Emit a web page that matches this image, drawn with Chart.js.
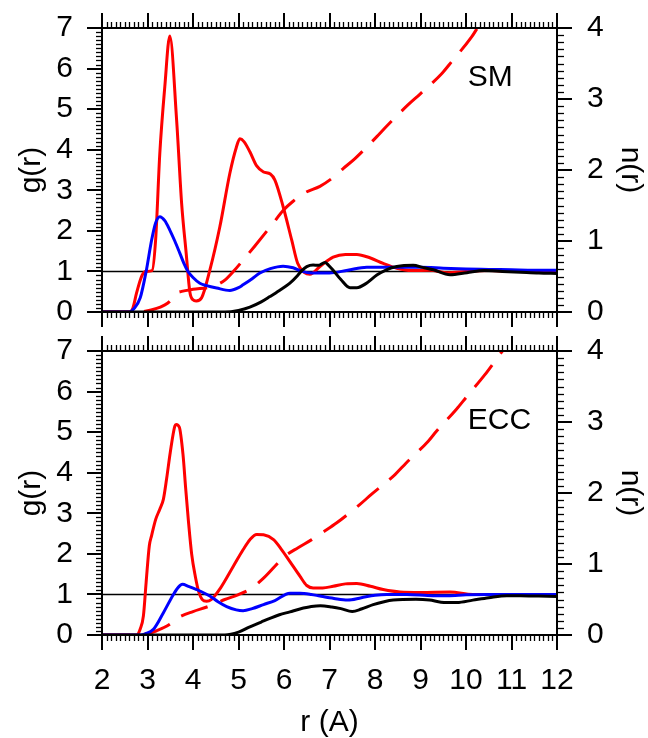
<!DOCTYPE html>
<html>
<head>
<meta charset="utf-8">
<script src="https://cdn.jsdelivr.net/npm/chart.js@4"></script>
<style>
  html, body { margin: 0; padding: 0; background: #fff; }
  #wrap { position: relative; width: 648px; height: 738px; }
  canvas { position: absolute; left: 0; }
  #topPanel { top: 0; }
  #bottomPanel { top: 330px; }
</style>
</head>
<body>
<div id="wrap">
  <canvas id="topPanel" width="648" height="330"></canvas>
  <canvas id="bottomPanel" width="648" height="408"></canvas>
</div>
<script>
// ---------- SM model ----------
const smRedR   = [2, 2.6, 2.68, 2.76, 2.88, 2.96, 3.1, 3.18, 3.27, 3.38, 3.49, 3.64, 3.75, 3.85, 3.93, 4.0, 4.07, 4.19, 4.37, 4.59, 4.81, 4.95, 5.03, 5.12, 5.25, 5.4, 5.55, 5.7, 5.8, 5.98, 6.17, 6.3, 6.45, 6.57, 6.79, 7.08, 7.35, 7.6, 7.9, 8.18, 8.48, 8.8, 9.2, 9.6, 10, 10.5, 11, 11.5, 12];
const smRedG   = [0, 0, 0.1, 0.47, 0.9, 1.0, 1.02, 1.8, 3.9, 5.55, 6.8, 4.73, 2.68, 1.45, 0.5, 0.3, 0.27, 0.35, 1.03, 2.1, 3.42, 4.05, 4.27, 4.2, 3.95, 3.6, 3.45, 3.4, 3.25, 2.6, 1.77, 1.2, 0.97, 0.93, 1.12, 1.35, 1.42, 1.42, 1.33, 1.2, 1.08, 1.02, 1.03, 0.97, 1.0, 1.02, 1.0, 1.0, 0.98];

const smBlueR  = [2, 2.6, 2.7, 2.84, 2.97, 3.09, 3.18, 3.27, 3.38, 3.49, 3.6, 3.71, 3.8, 3.89, 4.0, 4.15, 4.3, 4.52, 4.81, 5.0, 5.1, 5.3, 5.47, 5.7, 5.98, 6.2, 6.4, 6.6, 7.0, 7.4, 7.82, 8.5, 9.0, 9.5, 10, 10.5, 11, 11.5, 12];
const smBlueG  = [0, 0, 0.08, 0.35, 1.0, 1.77, 2.2, 2.35, 2.25, 2.02, 1.75, 1.45, 1.2, 1.0, 0.85, 0.71, 0.65, 0.59, 0.53, 0.6, 0.67, 0.82, 0.96, 1.07, 1.13, 1.09, 1.0, 0.96, 0.96, 1.03, 1.1, 1.1, 1.1, 1.08, 1.06, 1.05, 1.04, 1.03, 1.03];

const smBlackR = [2, 4.7, 5.0, 5.25, 5.5, 5.69, 5.9, 6.13, 6.3, 6.39, 6.5, 6.64, 6.75, 6.9, 6.98, 7.08, 7.25, 7.45, 7.6, 7.8, 8.04, 8.25, 8.48, 8.84, 9.05, 9.28, 9.65, 10.02, 10.4, 10.8, 11.2, 11.6, 12];
const smBlackG = [0, 0, 0.04, 0.12, 0.25, 0.38, 0.53, 0.71, 0.9, 1.02, 1.12, 1.16, 1.15, 1.22, 1.15, 1.03, 0.8, 0.6, 0.6, 0.7, 0.91, 1.04, 1.12, 1.15, 1.1, 1.04, 0.92, 0.97, 1.02, 1.0, 0.98, 0.96, 0.95];

const smNR     = [2, 2.8, 2.95, 3.2, 3.35, 3.49, 3.6, 3.75, 4.0, 4.37, 4.55, 4.7, 4.9, 5.1, 5.36, 5.76, 5.98, 6.2, 6.46, 6.79, 7.05, 7.3, 7.56, 8.04, 8.26, 8.73, 8.99, 9.47, 9.69, 10.12, 10.25];
const smN      = [0, 0, 0.01, 0.05, 0.09, 0.15, 0.25, 0.29, 0.32, 0.35, 0.39, 0.45, 0.58, 0.73, 0.93, 1.25, 1.43, 1.56, 1.68, 1.77, 1.88, 2.02, 2.16, 2.47, 2.62, 2.92, 3.07, 3.36, 3.53, 3.87, 4.0];

// ---------- ECC model ----------
const eccRedR   = [2, 2.76, 2.84, 2.91, 2.97, 3.04, 3.09, 3.18, 3.27, 3.35, 3.42, 3.5, 3.6, 3.63, 3.7, 3.78, 3.84, 3.9, 3.97, 4.05, 4.13, 4.2, 4.3, 4.4, 4.6, 4.89, 5.1, 5.25, 5.4, 5.55, 5.77, 5.95, 6.13, 6.35, 6.5, 6.64, 6.85, 7.08, 7.35, 7.6, 7.9, 8.18, 8.55, 9.0, 9.65, 10.15, 10.6, 11, 11.5, 12];
const eccRedG   = [0, 0, 0.15, 0.47, 1.3, 2.2, 2.45, 2.85, 3.1, 3.35, 3.85, 4.5, 5.15, 5.19, 5.12, 4.45, 3.6, 2.8, 2.0, 1.45, 1.05, 0.88, 0.83, 0.87, 1.15, 1.7, 2.1, 2.35, 2.48, 2.47, 2.35, 2.1, 1.81, 1.45, 1.22, 1.16, 1.16, 1.2, 1.26, 1.27, 1.2, 1.12, 1.06, 1.05, 1.06, 1.0, 1.0, 1.0, 1.0, 1.0];

const eccBlueR  = [2, 2.84, 2.95, 3.13, 3.35, 3.57, 3.68, 3.77, 3.9, 4.08, 4.37, 4.55, 4.74, 4.95, 5.1, 5.3, 5.55, 5.8, 6.13, 6.35, 6.6, 6.79, 7.1, 7.4, 7.7, 8.0, 8.26, 8.7, 9.28, 9.6, 10, 10.5, 11, 12];
const eccBlueG  = [0, 0, 0.03, 0.14, 0.55, 1.0, 1.18, 1.25, 1.2, 1.12, 0.96, 0.82, 0.7, 0.62, 0.6, 0.65, 0.75, 0.85, 1.03, 1.03, 1.0, 0.96, 0.9, 0.86, 0.92, 0.98, 1.0, 1.0, 0.97, 0.97, 0.99, 1.0, 1.0, 1.0];

const eccBlackR = [2, 4.7, 5.0, 5.25, 5.5, 5.69, 5.9, 6.13, 6.35, 6.6, 6.8, 7.05, 7.25, 7.5, 7.7, 7.96, 8.2, 8.4, 8.9, 9.2, 9.45, 9.8, 10.15, 10.5, 10.9, 11.2, 11.6, 12];
const eccBlackG = [0, 0, 0.07, 0.2, 0.32, 0.41, 0.5, 0.57, 0.64, 0.7, 0.72, 0.69, 0.65, 0.58, 0.64, 0.75, 0.82, 0.86, 0.88, 0.86, 0.81, 0.8, 0.86, 0.92, 0.97, 0.97, 0.96, 0.95];

const eccNR     = [2, 2.85, 3.0, 3.2, 3.49, 3.62, 3.75, 4.0, 4.37, 4.7, 5.0, 5.29, 5.55, 6.02, 6.31, 6.6, 6.86, 7.16, 7.67, 7.92, 8.44, 8.68, 9.17, 9.35, 9.79, 10.02, 10.42, 10.64, 10.8];
const eccN      = [0, 0, 0.02, 0.06, 0.15, 0.22, 0.27, 0.33, 0.41, 0.5, 0.57, 0.66, 0.8, 1.11, 1.23, 1.34, 1.45, 1.58, 1.84, 1.98, 2.26, 2.42, 2.73, 2.87, 3.18, 3.36, 3.67, 3.86, 4.0];

// g(r) = 1 reference
const refR = [2, 12];
const refG = [1, 1];

const FONT = '"Liberation Sans", Arial, Helvetica, sans-serif';
Chart.defaults.font.family = FONT;
Chart.defaults.color = '#000';

function pts(rs, vs) {
    return rs.map((r, i) => ({ x: r, y: vs[i] }));
}

// frame + major/minor tick marks, all pointing outward, plus the panel tag
const frameTicks = {
    id: 'frameTicks',
    afterDraw(chart, args, opts) {
        const { ctx, chartArea: a, scales } = chart;
        const xs = scales.x, gs = scales.y, ns = scales.n;
        ctx.save();
        ctx.strokeStyle = '#000';

        const seg = (x1, y1, x2, y2, w) => {
            ctx.lineWidth = w;
            ctx.beginPath();
            ctx.moveTo(x1, y1);
            ctx.lineTo(x2, y2);
            ctx.stroke();
        };

        // r axis, top and bottom
        for (let i = 0; i <= 100; i++) {
            const major = i % 10 === 0;
            const px = Math.round(xs.getPixelForValue(2 + i / 10)) + (major ? 0 : 0.5);
            const len = major ? 15 : 6;
            const w = major ? 2 : 1.3;
            seg(px, a.top, px, a.top - len, w);
            seg(px, a.bottom, px, a.bottom + len, w);
        }
        // g(r) axis, left
        for (let i = 0; i <= 70; i++) {
            const major = i % 10 === 0;
            const py = Math.round(gs.getPixelForValue(i / 10)) + (major ? 0 : 0.5);
            seg(a.left, py, a.left - (major ? 15 : 6), py, major ? 2 : 1.3);
        }
        // n(r) axis, right
        for (let i = 0; i <= 40; i++) {
            const major = i % 10 === 0;
            const py = Math.round(ns.getPixelForValue(i / 10)) + (major ? 0 : 0.5);
            seg(a.right, py, a.right + (major ? 15 : 7), py, major ? 2 : 1.3);
        }

        ctx.lineWidth = 2;
        ctx.strokeRect(a.left, a.top, a.right - a.left, a.bottom - a.top);

        if (opts.label) {
            ctx.fillStyle = '#000';
            ctx.font = '30px ' + FONT;
            ctx.textAlign = 'left';
            ctx.textBaseline = 'middle';
            ctx.fillText(opts.label, xs.getPixelForValue(opts.at[0]), gs.getPixelForValue(opts.at[1]));
        }
        ctx.restore();
    }
};

// fixed axis boxes so both panels share the same plot rectangle
function fixBox(size, vertical) {
    return sc => {
        if (vertical) sc.width = size; else sc.height = size;
        sc.paddingTop = 0;
        sc.paddingBottom = 0;
        sc.paddingLeft = 0;
        sc.paddingRight = 0;
    };
}

function makePanel(id, s) {
    const line = (data, color, axis, extra) => Object.assign({
        data, borderColor: color, borderWidth: 3, yAxisID: axis,
        pointRadius: 0, fill: false, cubicInterpolationMode: 'monotone'
    }, extra || {});

    return new Chart(document.getElementById(id), {
        type: 'line',
        data: {
            datasets: [
                line(pts(s.blackR, s.blackG), '#000000', 'y', { order: 1 }),
                line(pts(s.blueR, s.blueG), '#0000ff', 'y', { order: 2 }),
                line(pts(s.redR, s.redG), '#ff0000', 'y', { order: 3 }),
                line(pts(s.nR, s.n), '#ff0000', 'n', { order: 4, borderDash: [28, 14] }),
                line(pts(refR, refG), '#000000', 'y', { order: 5, borderWidth: 1.5 })
            ]
        },
        options: {
            responsive: false,
            animation: false,
            devicePixelRatio: 1,
            layout: { padding: { top: s.padTop, left: 0, right: 0, bottom: 0 } },
            plugins: {
                legend: { display: false },
                tooltip: { enabled: false },
                frameTicks: { label: s.label, at: s.labelAt }
            },
            scales: {
                x: {
                    type: 'linear', position: 'bottom', min: 2, max: 12,
                    grid: { display: false, drawTicks: false },
                    border: { display: false },
                    ticks: { display: s.showX, stepSize: 1, padding: 28, autoSkip: false, maxRotation: 0, font: { size: 30 } },
                    title: { display: s.showX, text: 'r (A)', font: { size: 30, lineHeight: 1 }, padding: { top: 0, bottom: 0 } },
                    afterFit: fixBox(s.xHeight, false)
                },
                y: {
                    position: 'left', min: 0, max: 7,
                    grid: { display: false, drawTicks: false },
                    border: { display: false },
                    ticks: { stepSize: 1, padding: 29, autoSkip: false, font: { size: 30 } },
                    title: { display: true, text: 'g(r)', font: { size: 30, lineHeight: 1 }, padding: { top: 17, bottom: 0 } },
                    afterFit: fixBox(102, true)
                },
                n: {
                    position: 'right', min: 0, max: 4,
                    grid: { display: false, drawTicks: false },
                    border: { display: false },
                    ticks: { stepSize: 1, padding: 30, autoSkip: false, font: { size: 30 } },
                    title: { display: true, text: 'n(r)', font: { size: 30, lineHeight: 1 }, padding: { top: 3, bottom: 0 } },
                    afterFit: fixBox(91, true)
                }
            }
        },
        plugins: [frameTicks]
    });
}

makePanel('topPanel', {
    redR: smRedR, redG: smRedG, blueR: smBlueR, blueG: smBlueG,
    blackR: smBlackR, blackG: smBlackG, nR: smNR, n: smN,
    label: 'SM', labelAt: [10.04, 5.77],
    padTop: 28, xHeight: 18, showX: false
});

makePanel('bottomPanel', {
    redR: eccRedR, redG: eccRedG, blueR: eccBlueR, blueG: eccBlueG,
    blackR: eccBlackR, blackG: eccBlackG, nR: eccNR, n: eccN,
    label: 'ECC', labelAt: [10.04, 5.27],
    padTop: 21, xHeight: 103, showX: true
});
</script>
</body>
</html>
